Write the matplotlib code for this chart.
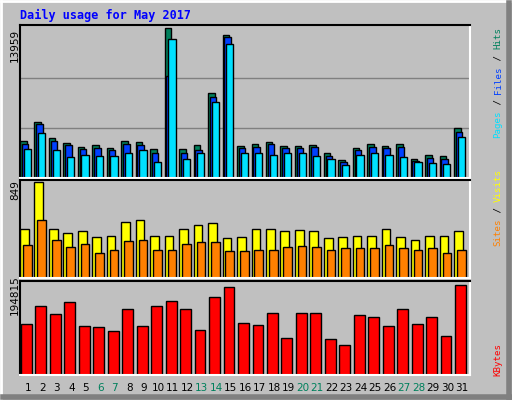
import numpy as np
import matplotlib
matplotlib.use('Agg')
import matplotlib.pyplot as plt

days = np.arange(1, 32)
hits = [3420, 5220, 3700, 3230, 2850, 3040, 2750, 3420, 3320, 2660, 13959, 2660, 3040, 7880, 13290,
        2940, 3130, 3320, 2940, 2940, 3040, 2370, 1710, 2750, 3130, 2940, 3130, 1800, 2180, 2090, 4650]
files = [3140, 5000, 3430, 3040, 2660, 2750, 2560, 3140, 3040, 2370, 9500, 2370, 2560, 7500, 13100,
        2750, 2850, 3140, 2750, 2750, 2850, 2090, 1520, 2560, 2850, 2750, 2850, 1620, 1900, 1800, 4280]
pages = [2660, 4180, 2560, 2000, 2180, 2090, 2090, 2370, 2560, 1520, 12900, 1800, 2370, 7030, 12440,
         2280, 2280, 2180, 2280, 2280, 2090, 1800, 1230, 2180, 2280, 2180, 2000, 1520, 1420, 1330, 3800]
visits = [429, 849, 429, 402, 411, 365, 374, 493, 511, 374, 374, 429, 466, 484, 356, 365,
          429, 429, 411, 420, 411, 356, 365, 374, 374, 429, 365, 338, 374, 374, 411]
sites = [292, 511, 338, 274, 301, 219, 247, 329, 338, 247, 247, 301, 320, 320, 237, 237,
         247, 247, 274, 283, 274, 247, 265, 265, 265, 292, 265, 247, 265, 219, 247]
kbytes = [109700, 147800, 132100, 156700, 105200, 103000, 94000, 143300, 105200, 147800, 159000,
          143300, 96300, 167900, 190300, 112000, 107500, 134300, 80600, 134300, 134300, 78400,
          64900, 129900, 125400, 105200, 143300, 109700, 125400, 85100, 194815]
weekend = [6, 7, 13, 14, 20, 21, 27, 28]

BG = '#C0C0C0'
W, H = 512, 400
fig = plt.figure(figsize=(W / 100, H / 100), dpi=100, facecolor=BG)
mono = 'DejaVu Sans Mono'

# рамка
bg = fig.add_axes([0, 0, 1, 1])
bg.set_xlim(0, W); bg.set_ylim(H, 0); bg.axis('off')
bg.plot([1, W - 1], [1, 1], color='white', lw=2)
bg.plot([1, 1], [1, H - 1], color='white', lw=2)
bg.plot([W - 3, W - 3], [3, H - 1], color='#808080', lw=4)
bg.plot([3, W - 1], [H - 3, H - 3], color='#808080', lw=4)
bg.text(20, 15, 'Daily usage for May 2017', color='#0000FF', fontsize=8.5,
        family=mono, fontweight='bold', va='center')


def panel(y0, y1):
    ax = fig.add_axes([20 / W, 1 - y1 / H, 450 / W, (y1 - y0) / H], facecolor=BG)
    ax.set_xlim(0.45, 31.55)
    ax.set_xticks([]); ax.set_yticks([])
    for s in ax.spines.values():
        s.set_color('white'); s.set_linewidth(1.5)
    ax.spines['top'].set_color('black'); ax.spines['left'].set_color('black')
    return ax


kw = dict(align='edge', edgecolor='black', linewidth=1)

ax1 = panel(25, 178)
ax1.set_ylim(0, max(hits) * 1.02)
for g in (1 / 3, 2 / 3):
    ax1.axhline(max(hits) * g, color='#808080', lw=1, zorder=0)
ax1.bar(days - 0.55, hits, 0.45, color='#00805C', **kw)
ax1.bar(days - 0.43, files, 0.45, color='#0040FF', **kw)
ax1.bar(days - 0.3, pages, 0.5, color='#00E0FF', **kw)

ax2 = panel(180, 278)
ax2.set_ylim(0, max(visits) * 1.02)
ax2.bar(days - 0.55, visits, 0.6, color='#FFFF00', **kw)
ax2.bar(days - 0.35, sites, 0.6, color='#FF8000', **kw)

ax3 = panel(281, 375)
ax3.set_ylim(0, max(kbytes) * 1.04)
ax3.bar(days - 0.48, kbytes, 0.75, color='#FF0000', **kw)

# подписи дней
for d in days:
    x = 20 + (d - 0.45) / 31.1 * 450
    bg.text(x, 388, str(d), ha='center', va='center', fontsize=7.5,
            color='#00805C' if d in weekend else 'black', family='DejaVu Sans')

# максимумы слева
for y, v in [(45, max(hits)), (190, max(visits)), (295, max(kbytes))]:
    bg.text(15, y, str(v), rotation=90, ha='center', va='center', fontsize=7.5, family='DejaVu Sans')


def side(parts, ybottom):
    y = ybottom
    for txt, col in parts:
        bg.text(498, y, txt, rotation=90, ha='center', va='bottom', fontsize=6.6,
                family=mono, color=col)
        y -= len(txt) * 5.55


side([('Pages', '#00E0FF'), (' / ', 'black'), ('Files', '#0040FF'), (' / ', 'black'), ('Hits', '#00805C')], 138)
side([('Sites', '#FF8000'), (' / ', 'black'), ('Visits', '#FFFF00')], 246)
side([('KBytes', '#FF0000')], 376)

fig.savefig('out.png', dpi=100, facecolor=BG)
